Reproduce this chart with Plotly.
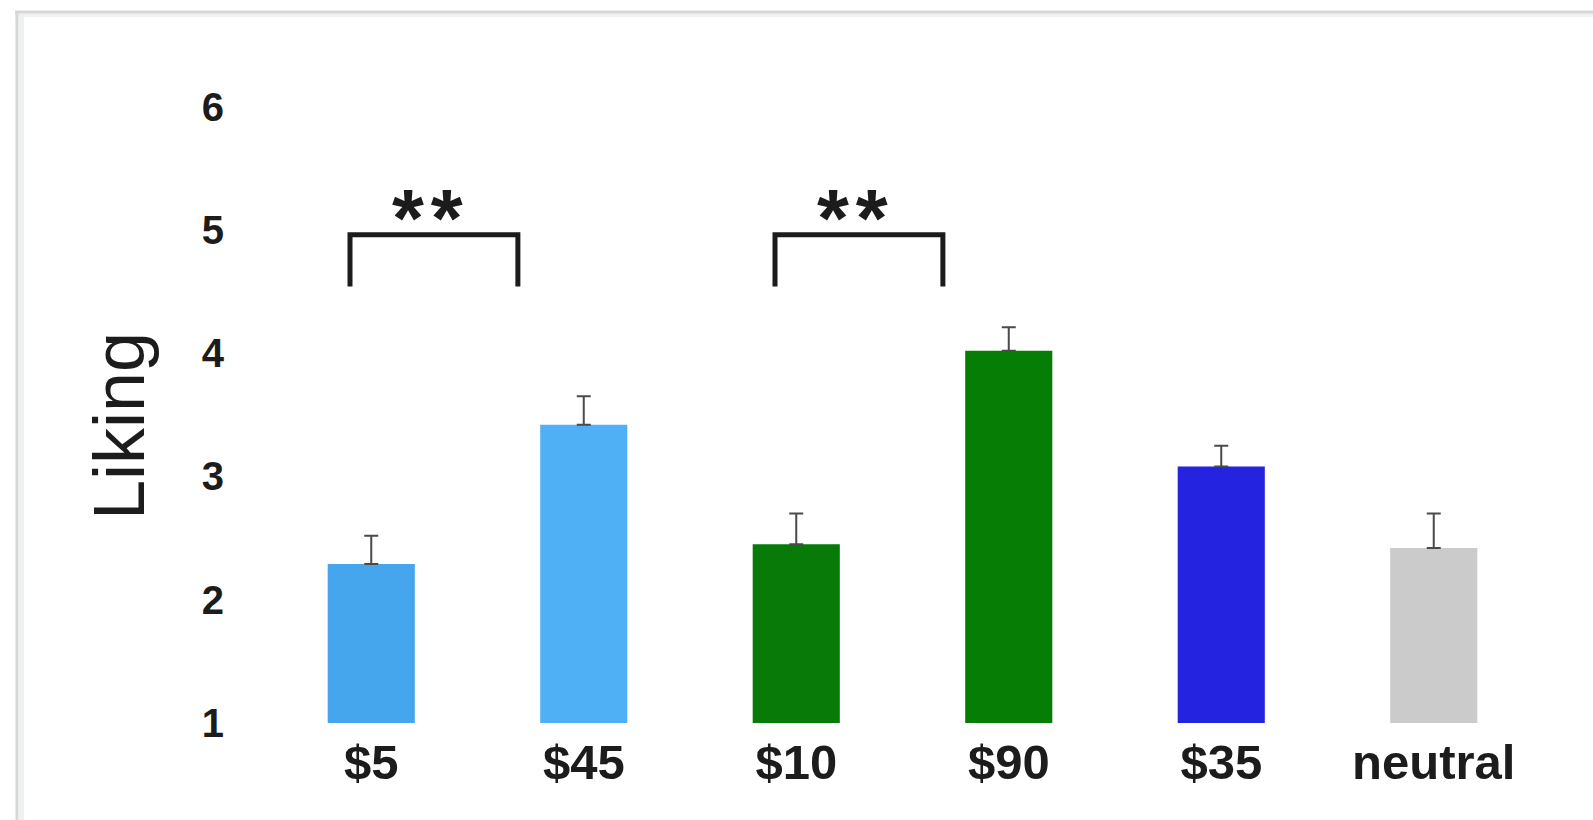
import plotly.graph_objects as go

# Mean liking rating per price condition, with one-sided standard error
categories = ["$5", "$45", "$10", "$90", "$35", "neutral"]
liking = [2.29, 3.42, 2.45, 4.02, 3.08, 2.42]
liking_err = [0.23, 0.23, 0.25, 0.19, 0.17, 0.28]
bar_colors = ["#45a6ee", "#50b0f6", "#077a07", "#067e06", "#2323e0", "#cbcbcb"]

# Significant pairwise comparisons (index pairs) and their labels
comparisons = [(0, 1, "*\u200a*"), (2, 3, "*\u200a*")]
bracket_top = 4.96
bracket_leg = 0.42
star_level = 5.10

y_ticks = [1, 2, 3, 4, 5, 6]

W, H = 1593, 820
ML, MR, MT, MB = 265, 53, 45, 97
PW, PH = W - ML - MR, H - MT - MB
FONT = "Liberation Sans, Arial, Helvetica, sans-serif"
INK = "#1c1c1c"


def px_x(px):
    return (px - ML) / PW


def px_y(py):
    return (H - MB - py) / PH


def bold(s):
    return f"<b>{s}</b>"


xs = list(range(len(categories)))

fig = go.Figure()
fig.add_trace(go.Bar(
    x=xs,
    y=liking,
    width=0.41,
    marker=dict(color=bar_colors, line=dict(width=0)),
    error_y=dict(type="data", symmetric=False, array=liking_err,
                 arrayminus=[0] * len(liking_err),
                 color="#4a4a4a", thickness=2, width=7),
    showlegend=False,
))

# Significance brackets
for i, j, label in comparisons:
    left = i - 0.10
    right = j - 0.31
    fig.add_trace(go.Scatter(
        x=[left, left, right, right],
        y=[bracket_top - bracket_leg, bracket_top, bracket_top, bracket_top - bracket_leg],
        mode="lines",
        line=dict(color=INK, width=5),
        hoverinfo="skip",
        showlegend=False,
    ))
    fig.add_annotation(
        x=(left + right) / 2 - 0.03, y=star_level, xref="x", yref="y",
        text=bold(label), showarrow=False,
        font=dict(family=FONT, size=82, color=INK),
    )

# Axis title
fig.add_annotation(
    x=px_x(77), y=px_y(426), xref="paper", yref="paper",
    text="Liking", textangle=-90, showarrow=False,
    font=dict(family=FONT, size=72, color=INK),
)

# Light frame along the top and left edges
frame = "#d6d8d7"
band = "#eef1f0"
fig.add_shape(type="rect", xref="paper", yref="paper",
              x0=px_x(15), x1=px_x(W + 5), y0=px_y(13), y1=px_y(17),
              fillcolor=band, line=dict(width=0), layer="above")
fig.add_shape(type="rect", xref="paper", yref="paper",
              x0=px_x(19), x1=px_x(24), y0=px_y(13), y1=px_y(H + 5),
              fillcolor=band, line=dict(width=0), layer="above")
fig.add_shape(type="line", xref="paper", yref="paper",
              x0=px_x(15), x1=px_x(W + 5), y0=px_y(12), y1=px_y(12),
              line=dict(color=frame, width=3), layer="above")
fig.add_shape(type="line", xref="paper", yref="paper",
              x0=px_x(17), x1=px_x(17), y0=px_y(11), y1=px_y(H + 5),
              line=dict(color=frame, width=3), layer="above")

fig.update_layout(
    width=W, height=H,
    margin=dict(l=ML, r=MR, t=MT, b=MB, pad=0),
    paper_bgcolor="white",
    plot_bgcolor="white",
    xaxis=dict(
        range=[-0.5, len(categories) - 0.5],
        tickmode="array", tickvals=xs, ticktext=[bold(c) for c in categories],
        showgrid=False, zeroline=False, showline=False,
        ticks="", ticklabelstandoff=6,
        tickfont=dict(family=FONT, size=49, color=INK),
        fixedrange=True,
    ),
    yaxis=dict(
        range=[1, 6.5],
        tickmode="array", tickvals=y_ticks,
        ticktext=[bold(v) for v in y_ticks],
        showgrid=False, zeroline=False, showline=False,
        ticks="", ticklabelstandoff=40,
        tickfont=dict(family=FONT, size=40, color=INK),
        fixedrange=True,
    ),
)

fig.write_html("out.html")
